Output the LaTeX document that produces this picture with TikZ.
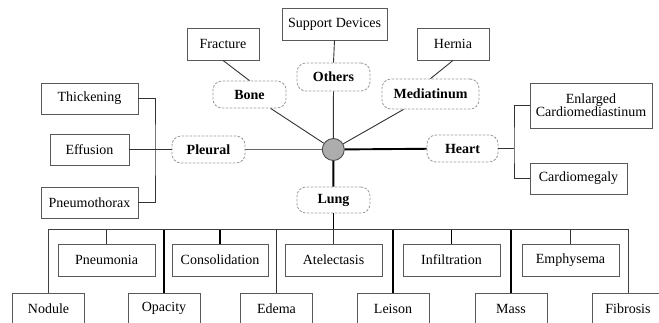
\documentclass[tikz,border=0pt]{standalone}
\usepackage{fontspec}
\setmainfont{Liberation Serif}
\tikzset{
  box/.style={draw=black!65, line width=0.9pt, fill=white, inner sep=2pt, align=center,
    font=\fontsize{14}{16}\selectfont},
  group/.style={draw=black!40, dashed, dash pattern=on 2.5pt off 1.5pt, line width=0.8pt,
    rounded corners=9pt, fill=white, font=\fontsize{14}{16}\selectfont\bfseries},
  thin/.style={line width=0.9pt, black!80},
  fat/.style={line width=1.9pt, black},
}
\begin{document}
\begin{tikzpicture}[x=1pt,y=-1pt]
		\useasboundingbox (0,0) rectangle (659,322);
		%mitte
		\node[circle, draw=black!70, fill=black!32, line width=0.9pt, minimum size=22pt, inner sep=0pt] (hub) at (333.3,149.5) {};
		\node[group, minimum width=73pt, minimum height=27pt] (bone) at (249.5,94.5) {Bone};
		\node[group, minimum width=73pt, minimum height=28pt] (others) at (333.5,77) {Others};
		\node[group, minimum width=97pt, minimum height=30pt] (media) at (430.5,94) {Mediatinum};
		\node[group, minimum width=73pt, minimum height=27pt] (pleural) at (208.5,149.5) {Pleural};
		\node[group, minimum width=71pt, minimum height=27pt] (heart) at (462.5,148.5) {Heart};
		\node[group, minimum width=73pt, minimum height=26pt] (lung) at (333.5,200) {Lung};
		%oben
		\node[box, minimum width=72pt, minimum height=32pt] (fracture) at (223,44) {Fracture};
		\node[box, minimum width=105pt, minimum height=32pt] (support) at (334.5,24) {Support Devices};
		\node[box, minimum width=72pt, minimum height=32pt] (hernia) at (453,44) {Hernia};
		%links
		\node[box, minimum width=97pt, minimum height=31pt] (thick) at (89.5,98.5) {Thickening};
		\node[box, minimum width=79pt, minimum height=31pt] (effusion) at (89.5,149.5) {Effusion};
		\node[box, minimum width=97pt, minimum height=31pt] (pneumothorax) at (89.5,202.5) {Pneumothorax};
		%rechts
		\node[box, minimum width=122pt, minimum height=45pt] (enlarged) at (591,105.5) {Enlarged\\[-3pt]Cardiomediastinum};
		\node[box, minimum width=97pt, minimum height=31pt] (cardio) at (578.5,178.5) {Cardiomegaly};
		%unten
		\node[box, minimum width=97pt, minimum height=32pt] (pneumonia) at (106.5,260) {Pneumonia};
		\node[box, minimum width=96pt, minimum height=32pt] (consol) at (220,260) {Consolidation};
		\node[box, minimum width=97pt, minimum height=32pt] (atel) at (333.5,260) {Atelectasis};
		\node[box, minimum width=97pt, minimum height=32pt] (infil) at (451.5,260) {Infiltration};
		\node[box, minimum width=97pt, minimum height=32pt] (emphy) at (570.5,260) {Emphysema};
		\node[box, minimum width=72pt, minimum height=31pt] (nodule) at (48.5,308.5) {Nodule};
		\node[box, minimum width=72pt, minimum height=31pt] (opacity) at (164,308.5) {Opacity};
		\node[box, minimum width=72pt, minimum height=31pt] (edema) at (276.5,308.5) {Edema};
		\node[box, minimum width=72pt, minimum height=31pt] (leison) at (393,308.5) {Leison};
		\node[box, minimum width=72pt, minimum height=31pt] (mass) at (511,308.5) {Mass};
		\node[box, minimum width=72pt, minimum height=31pt] (fibrosis) at (628,308.5) {Fibrosis};
		\coordinate (plj) at (155,149.5);
		\coordinate (hj) at (514,148.5);
		\coordinate (bar) at (333.5,229.5);
		%kanten
		\draw[thin] (fracture.south) -- (bone.north);
		\draw[thin] (support.south) -- (others.north);
		\draw[thin] (hernia.south) -- (media.north);
		\foreach \g in {bone,others,media}
			\draw[thin] (hub) -- (\g);
		\draw[line width=0.9pt, black!60] (hub) -- (pleural);
		\draw[fat] (hub) -- (heart);
		\draw[fat] (hub) -- (lung);
		\draw[fat] (lung) -- (bar);
		\draw[thin] (pleural.west) -- (effusion.east);
		\draw[thin] (thick.east) -| (plj) |- (pneumothorax.east);
		\draw[thin] (heart.east) -- (hj);
		\draw[thin] (enlarged.west) -| (hj) |- (cardio.west);
		\draw[thin, black!75] (nodule.north) |- (bar) -| (fibrosis.north);
		\foreach \b in {pneumonia,atel,edema,emphy}
			\draw[thin] (\b.north) -- (\b.north |- bar);
		\foreach \b in {consol,opacity,infil,leison,mass}
			\draw[fat] (\b.north) -- (\b.north |- bar);
\end{tikzpicture}
\end{document}
